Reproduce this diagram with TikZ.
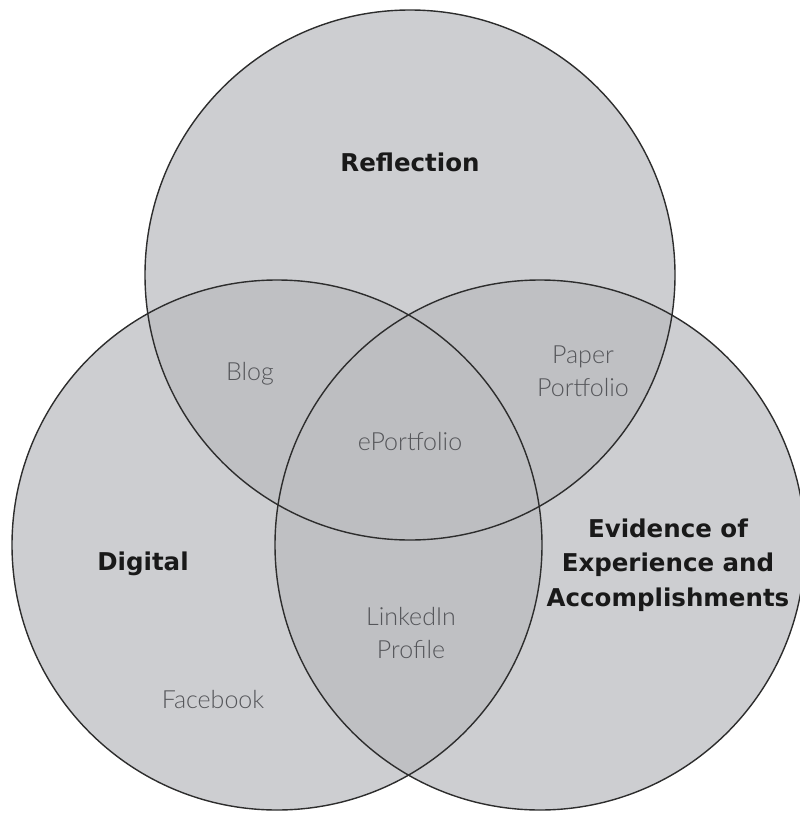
\documentclass[tikz,border=0pt]{standalone}
\usepackage{fontspec}
\newfontfamily\headfont{DejaVu Sans}
\newfontfamily\lightfont{Lato Light}
\definecolor{single}{RGB}{205,206,209}
\definecolor{overlap}{RGB}{191,192,195}
\definecolor{triple}{RGB}{189,190,193}
\definecolor{edge}{RGB}{45,45,45}
\definecolor{headtext}{RGB}{25,25,25}
\definecolor{lighttext}{RGB}{85,86,90}
\begin{document}
\begin{tikzpicture}[x=1pt,y=-1pt,
  head/.style={font=\headfont\bfseries\fontsize{24.5}{34.5}\selectfont, text=headtext, align=center, inner sep=0pt, anchor=base},
  lite/.style={font=\lightfont\fontsize{25}{33}\selectfont, text=lighttext, align=center, inner sep=0pt, anchor=base},
  ring/.style={draw=edge, line width=1.4pt}]
\useasboundingbox (0,0) rectangle (800,814);
\clip (0,0) rectangle (800,814);
\coordinate (cR) at (410,275);
\coordinate (cD) at (277,545);
\coordinate (cE) at (540,545);
\def\rr{265pt}
\fill[single] (cR) circle[radius=\rr];
\fill[single] (cD) circle[radius=\rr];
\fill[single] (cE) circle[radius=\rr];
\begin{scope}
  \clip (cR) circle[radius=\rr];
  \fill[overlap] (cD) circle[radius=\rr];
  \fill[overlap] (cE) circle[radius=\rr];
\end{scope}
\begin{scope}
  \clip (cD) circle[radius=\rr];
  \fill[overlap] (cE) circle[radius=\rr];
\end{scope}
\begin{scope}
  \clip (cR) circle[radius=\rr];
  \clip (cD) circle[radius=\rr];
  \fill[triple] (cE) circle[radius=\rr];
\end{scope}
\draw[ring] (cR) circle[radius=\rr];
\draw[ring] (cD) circle[radius=\rr];
\draw[ring] (cE) circle[radius=\rr];
\node[head] (reflection) at (410,171) {Reflection};
\node[head] (digital) at (143,570) {Digital};
\node[head] (evidence) at (668,606) {Evidence of\\Experience and\\Accomplishments};
\node[lite] (blog) at (250,380) {Blog};
\node[lite] (eportfolio) at (410,450) {ePortfolio};
\node[lite] (paper) at (583,396) {Paper\\Portfolio};
\node[lite] (linkedin) at (411,658) {LinkedIn\\Profile};
\node[lite] (facebook) at (213,708) {Facebook};
\end{tikzpicture}
\end{document}
